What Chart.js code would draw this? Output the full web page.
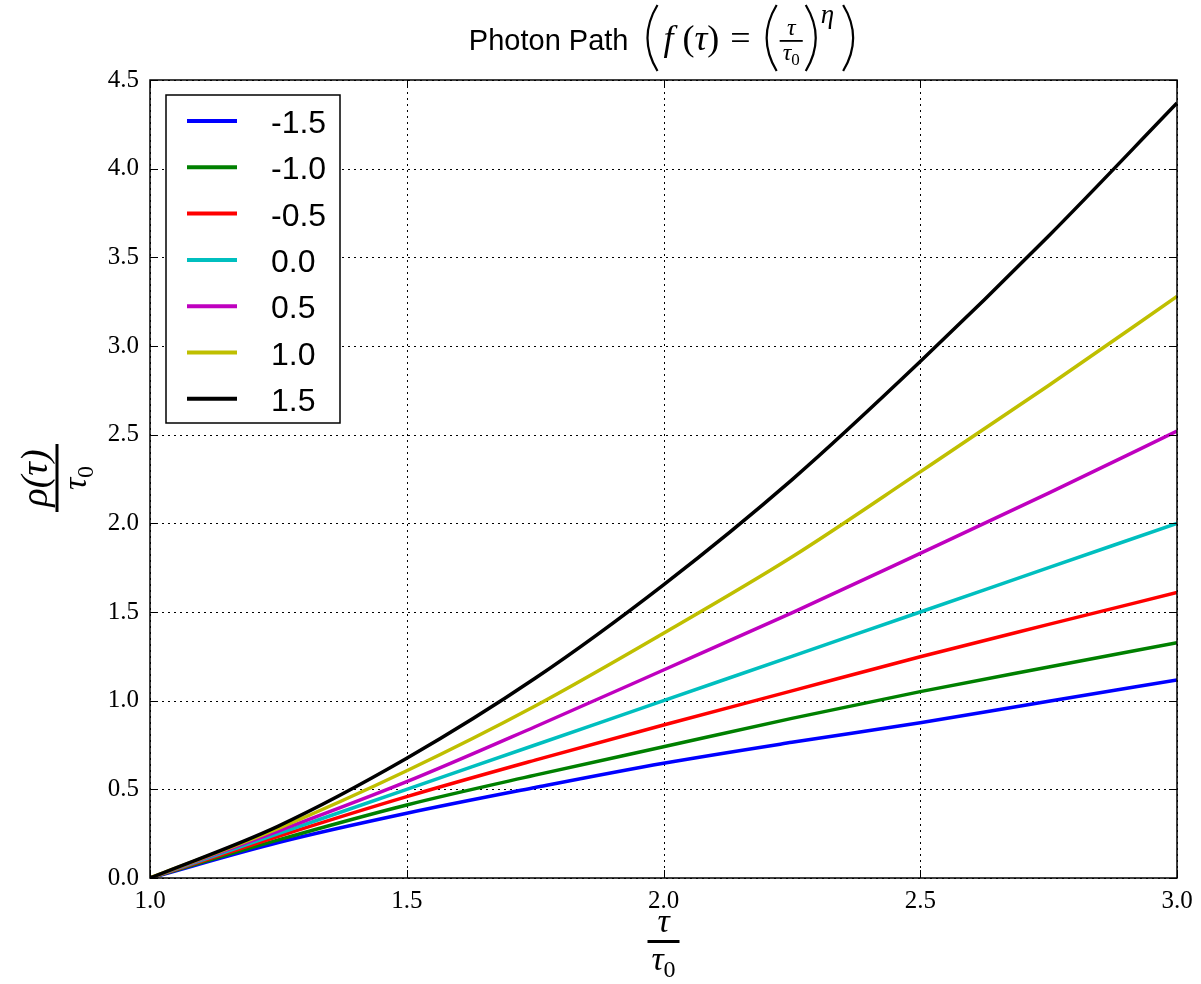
<!DOCTYPE html>
<html>
<head>
<meta charset="utf-8">
<script src="https://cdn.jsdelivr.net/npm/chart.js@4/dist/chart.umd.min.js"></script>
<style>
  html, body { margin: 0; background: #fff; }
</style>
</head>
<body>
<canvas id="chart" width="1201" height="984"></canvas>
<script>
const SANS = '"Liberation Sans", Arial, sans-serif';
const SERIF = '"Liberation Serif", "Times New Roman", serif';

// tau / tau0 sample points
const tau = [1.0, 1.25, 1.5, 1.75, 2.0, 2.25, 2.5, 2.75, 3.0];

// rho(tau) / tau0, one array per eta
const etaM15 = [0, 0.200, 0.365, 0.510, 0.647, 0.765, 0.875, 0.997, 1.117];
const etaM10 = [0, 0.215, 0.412, 0.580, 0.740, 0.900, 1.051, 1.190, 1.327];
const etaM05 = [0, 0.235, 0.459, 0.665, 0.863, 1.055, 1.248, 1.430, 1.610];
const eta00  = [0, 0.250, 0.500, 0.750, 1.000, 1.250, 1.500, 1.750, 2.000];
const eta05  = [0, 0.265, 0.543, 0.853, 1.173, 1.495, 1.831, 2.170, 2.520];
const eta10  = [0, 0.280, 0.605, 0.970, 1.380, 1.810, 2.290, 2.777, 3.280];
const eta15  = [0, 0.293, 0.675, 1.126, 1.653, 2.245, 2.912, 3.620, 4.370];

const etaLabels = ["-1.5", "-1.0", "-0.5", "0.0", "0.5", "1.0", "1.5"];
const series = [etaM15, etaM10, etaM05, eta00, eta05, eta10, eta15];
const colors = ["#0000ff", "#008000", "#ff0000", "#00bfbf", "#bf00bf", "#bfbf00", "#000000"];

const xTicks = [1.0, 1.5, 2.0, 2.5, 3.0];
const yTicks = [0, 0.5, 1.0, 1.5, 2.0, 2.5, 3.0, 3.5, 4.0, 4.5];

function bigParen(ctx, x, left) {
  ctx.beginPath();
  if (left) {
    ctx.moveTo(x + 15, 5);
    ctx.quadraticCurveTo(x - 5, 38, x + 15, 71);
  } else {
    ctx.moveTo(x + 3, 5);
    ctx.quadraticCurveTo(x + 23, 38, x + 3, 71);
  }
  ctx.lineWidth = 2.2;
  ctx.strokeStyle = "#000";
  ctx.stroke();
}

// lays the title out from x; draws only when draw is true
function titleRun(ctx, x, draw) {
  const base = 50;
  const put = (txt, font, dy = 0) => {
    ctx.font = font;
    if (draw) ctx.fillText(txt, x, base + dy);
    x += ctx.measureText(txt).width;
  };
  const paren = left => { if (draw) bigParen(ctx, x, left); x += 18; };

  put("Photon Path", "29px " + SANS);
  x += 14;
  paren(true);
  x += 3;
  put("f", "italic 36px " + SERIF);
  x += 9;
  put("(", "36px " + SERIF);
  put("τ", "italic 36px " + SERIF);
  put(")", "36px " + SERIF);
  x += 11;
  put("=", "36px " + SERIF);
  x += 11;
  paren(true);
  ctx.font = "italic 24px " + SERIF;
  const wt = ctx.measureText("τ").width;
  ctx.font = "17px " + SERIF;
  const w0 = ctx.measureText("0").width;
  const fw = wt + w0 + 6;
  if (draw) {
    ctx.font = "italic 24px " + SERIF;
    ctx.fillText("τ", x + (fw - wt) / 2, 35);
    ctx.fillRect(x, 40, fw, 1.8);
    ctx.fillText("τ", x + 3, 60);
    ctx.font = "17px " + SERIF;
    ctx.fillText("0", x + 3 + wt, 65);
  }
  x += fw;
  paren(false);
  put("η", "italic 27px " + SERIF, -27);
  x += 6;
  paren(false);
  return x;
}

const decorations = {
  id: "decorations",
  beforeDatasetsDraw(chart) {
    const { ctx, chartArea: a, scales: { x, y } } = chart;
    ctx.save();
    ctx.strokeStyle = "#000";
    ctx.lineWidth = 1;
    ctx.setLineDash([2, 4]);
    ctx.beginPath();
    xTicks.forEach(v => {
      const px = Math.round(x.getPixelForValue(v)) + 0.5;
      ctx.moveTo(px, a.top); ctx.lineTo(px, a.bottom);
    });
    yTicks.forEach(v => {
      const py = Math.round(y.getPixelForValue(v)) + 0.5;
      ctx.moveTo(a.left, py); ctx.lineTo(a.right, py);
    });
    ctx.stroke();
    ctx.restore();
  },
  afterDatasetsDraw(chart) {
    const { ctx, chartArea: a, scales: { x, y } } = chart;
    ctx.save();
    ctx.strokeStyle = "#000";
    // inward tick marks
    ctx.lineWidth = 1;
    ctx.beginPath();
    xTicks.forEach(v => {
      const px = Math.round(x.getPixelForValue(v)) + 0.5;
      ctx.moveTo(px, a.bottom); ctx.lineTo(px, a.bottom - 8);
      ctx.moveTo(px, a.top); ctx.lineTo(px, a.top + 8);
    });
    yTicks.forEach(v => {
      const py = Math.round(y.getPixelForValue(v)) + 0.5;
      ctx.moveTo(a.left, py); ctx.lineTo(a.left + 8, py);
      ctx.moveTo(a.right, py); ctx.lineTo(a.right - 8, py);
    });
    ctx.stroke();
    // frame
    ctx.lineWidth = 1.5;
    ctx.strokeRect(a.left, a.top, a.right - a.left, a.bottom - a.top);

    // legend
    const lx = a.left + 16, ly = a.top + 15, lw = 174, lh = 328;
    ctx.fillStyle = "#fff";
    ctx.fillRect(lx, ly, lw, lh);
    ctx.lineWidth = 1.5;
    ctx.strokeRect(lx, ly, lw, lh);
    ctx.font = "32px " + SANS;
    ctx.textBaseline = "alphabetic";
    chart.data.datasets.forEach((ds, i) => {
      const yy = ly + 26 + i * 46.3;
      ctx.strokeStyle = ds.borderColor;
      ctx.lineWidth = 4;
      ctx.beginPath();
      ctx.moveTo(lx + 21, yy); ctx.lineTo(lx + 71, yy);
      ctx.stroke();
      ctx.fillStyle = "#000";
      ctx.fillText(ds.label, lx + 105, yy + 12);
    });

    // title
    ctx.fillStyle = "#000";
    const cx = (a.left + a.right) / 2;
    const tw = titleRun(ctx, 0, false);
    titleRun(ctx, cx - tw / 2, true);

    // x axis label: tau / tau0
    ctx.textAlign = "center";
    ctx.font = "italic 34px " + SERIF;
    ctx.fillText("τ", cx, 932);
    ctx.fillRect(cx - 16, 940, 32, 3);
    ctx.textAlign = "left";
    const tw1 = ctx.measureText("τ").width;
    ctx.font = "24px " + SERIF;
    const tw0 = ctx.measureText("0").width;
    let sx = cx - (tw1 + tw0) / 2;
    ctx.font = "italic 34px " + SERIF;
    ctx.fillText("τ", sx, 970);
    ctx.font = "24px " + SERIF;
    ctx.fillText("0", sx + tw1, 977);

    // y axis label: rho(tau) / tau0, rotated
    ctx.translate(57, (a.top + a.bottom) / 2 - 1);
    ctx.rotate(-Math.PI / 2);
    ctx.textAlign = "center";
    ctx.font = "italic 38px " + SERIF;
    ctx.fillText("ρ(τ)", 0, -10);
    ctx.fillRect(-34, -1.5, 68, 3);
    ctx.textAlign = "left";
    ctx.font = "italic 34px " + SERIF;
    sx = -(tw1 + tw0) / 2;
    ctx.fillText("τ", sx, 29);
    ctx.font = "24px " + SERIF;
    ctx.fillText("0", sx + tw1, 36);
    ctx.restore();
  }
};

new Chart(document.getElementById("chart"), {
  type: "line",
  data: {
    datasets: series.map((vals, i) => ({
      label: etaLabels[i],
      data: tau.map((t, j) => ({ x: t, y: vals[j] })),
      borderColor: colors[i],
      backgroundColor: colors[i],
      borderWidth: 3.5,
      pointRadius: 0,
      cubicInterpolationMode: "monotone",
      order: series.length - i
    }))
  },
  options: {
    responsive: false,
    animation: false,
    devicePixelRatio: 1,
    layout: { padding: { left: 90, right: 24, top: 80, bottom: 0 } },
    plugins: {
      legend: { display: false },
      title: { display: false },
      tooltip: { enabled: false }
    },
    scales: {
      x: {
        type: "linear",
        min: 1.0,
        max: 3.0,
        grid: { display: false },
        border: { display: false },
        afterFit: scale => { scale.height = 106; },
        ticks: {
          stepSize: 0.5,
          padding: 0,
          color: "#000",
          font: { family: SERIF, size: 25 },
          maxRotation: 0,
          callback: v => v.toFixed(1)
        }
      },
      y: {
        min: 0,
        max: 4.5,
        grid: { display: false },
        border: { display: false },
        afterFit: scale => { scale.width = 60; },
        ticks: {
          stepSize: 0.5,
          padding: 3,
          color: "#000",
          font: { family: SERIF, size: 25 },
          callback: v => v.toFixed(1)
        }
      }
    }
  },
  plugins: [decorations]
});
</script>
</body>
</html>
